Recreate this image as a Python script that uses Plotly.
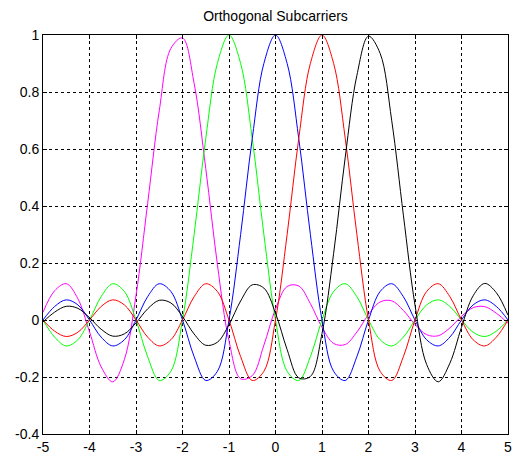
import plotly.graph_objects as go

# x sample positions
x_vals = [-5.0, -4.75, -4.5, -4.25, -4.0, -3.75, -3.5, -3.25, -3.0, -2.75, -2.5, -2.25,
          -2.0, -1.75, -1.5, -1.25, -1.0, -0.75, -0.5, -0.25, 0.0, 0.25, 0.5, 0.75,
          1.0, 1.25, 1.5, 1.75, 2.0, 2.25, 2.5, 2.75, 3.0, 3.25, 3.5, 3.75, 4.0,
          4.25, 4.5, 4.75, 5.0]

# magenta subcarrier (peak near x = -2.1)
magenta_vals = [0.0271, 0.1026, 0.1274, 0.0747, -0.0412, -0.1641, -0.2171, -0.1385, 0.0861,
                0.4089, 0.7341, 0.9530, 0.9896, 0.8302, 0.5316, 0.1952, -0.0733, -0.2060,
                -0.1951, -0.0885, 0.0381, 0.1176, 0.1195, 0.0573, -0.0257, -0.0823, -0.0861,
                -0.0423, 0.0194, 0.0633, 0.0673, 0.0335, -0.0156, -0.0514, -0.0553, -0.0278,
                0.0130, 0.0433, 0.0469, 0.0237, -0.0112]

# green subcarrier (peak at x = -1)
green_vals = [0.0, -0.0600, -0.0909, -0.0693, 0.0, 0.0818, 0.1273, 0.1000, 0.0, -0.1286,
              -0.2122, -0.1801, 0.0, 0.3001, 0.6366, 0.9003, 1.0, 0.9003, 0.6366, 0.3001,
              0.0, -0.1801, -0.2122, -0.1286, 0.0, 0.1000, 0.1273, 0.0818, 0.0, -0.0693,
              -0.0909, -0.0600, 0.0, 0.0530, 0.0707, 0.0474, 0.0, -0.0429, -0.0579, -0.0391, 0.0]

# blue subcarrier (peak at x = 0)
blue_vals = [0.0, 0.0474, 0.0707, 0.0530, 0.0, -0.0600, -0.0909, -0.0693, 0.0, 0.0818,
             0.1273, 0.1000, 0.0, -0.1286, -0.2122, -0.1801, 0.0, 0.3001, 0.6366, 0.9003,
             1.0, 0.9003, 0.6366, 0.3001, 0.0, -0.1801, -0.2122, -0.1286, 0.0, 0.1000,
             0.1273, 0.0818, 0.0, -0.0693, -0.0909, -0.0600, 0.0, 0.0530, 0.0707, 0.0474, 0.0]

# red subcarrier (peak at x = 1)
red_vals = [0.0, -0.0391, -0.0579, -0.0429, 0.0, 0.0474, 0.0707, 0.0530, 0.0, -0.0600,
            -0.0909, -0.0693, 0.0, 0.0818, 0.1273, 0.1000, 0.0, -0.1286, -0.2122, -0.1801,
            0.0, 0.3001, 0.6366, 0.9003, 1.0, 0.9003, 0.6366, 0.3001, 0.0, -0.1801,
            -0.2122, -0.1286, 0.0, 0.1000, 0.1273, 0.0818, 0.0, -0.0693, -0.0909, -0.0600, 0.0]

# black subcarrier (peak near x = 2.05)
black_vals = [-0.0071, 0.0275, 0.0480, 0.0409, 0.0082, -0.0323, -0.0566, -0.0486, -0.0099,
              0.0390, 0.0691, 0.0599, 0.0123, -0.0492, -0.0886, -0.0780, -0.0163, 0.0668,
              0.1233, 0.1120, 0.0243, -0.1039, -0.2028, -0.1981, -0.0474, 0.2339, 0.5716,
              0.8584, 0.9959, 0.9355, 0.6987, 0.3679, 0.0524, -0.1559, -0.2168, -0.1515,
              -0.0255, 0.0850, 0.1283, 0.0954, 0.0169]

x_ticks = [-5, -4, -3, -2, -1, 0, 1, 2, 3, 4, 5]
x_tick_labels = ["-5", "-4", "-3", "-2", "-1", "0", "1", "2", "3", "4", "5"]
y_ticks = [-0.4, -0.2, 0, 0.2, 0.4, 0.6, 0.8, 1]
y_tick_labels = ["-0.4", "-0.2", "0", "0.2", "0.4", "0.6", "0.8", "1"]

title_text = "Orthogonal Subcarriers"

series = [
    ("magenta", magenta_vals, "#FF00FF"),
    ("green", green_vals, "#00FF00"),
    ("blue", blue_vals, "#0000FF"),
    ("red", red_vals, "#FF0000"),
    ("black", black_vals, "#000000"),
]

fig = go.Figure()
for name, vals, color in series:
    fig.add_trace(go.Scatter(
        x=x_vals, y=vals, mode="lines", name=name,
        line=dict(color=color, width=1, shape="spline", smoothing=1.0),
        showlegend=False, hoverinfo="skip",
    ))

font = dict(family="Liberation Sans, Arial, sans-serif", size=14, color="black")
axis_common = dict(
    showline=True, linecolor="black", linewidth=1, mirror="ticks",
    ticks="inside", ticklen=4, tickcolor="black", tickwidth=1,
    showgrid=True, gridcolor="black", gridwidth=1, griddash="3px,3px",
    zeroline=False, tickfont=font, ticklabeloverflow="allow", automargin=False,
)

fig.update_layout(
    width=513, height=456,
    margin=dict(l=43, r=5, t=35, b=22, pad=0, autoexpand=False),
    paper_bgcolor="white", plot_bgcolor="white",
    title=dict(text=title_text, font=font, x=0.5, xref="paper", xanchor="center",
               y=1 - 16 / 456, yref="container", yanchor="middle"),
    xaxis=dict(range=[-5, 5], tickmode="array", tickvals=x_ticks, ticktext=x_tick_labels,
               ticklabelstandoff=0, **axis_common),
    yaxis=dict(range=[-0.4, 1], tickmode="array", tickvals=y_ticks, ticktext=y_tick_labels,
               **axis_common),
)

fig.write_html("out.html")
